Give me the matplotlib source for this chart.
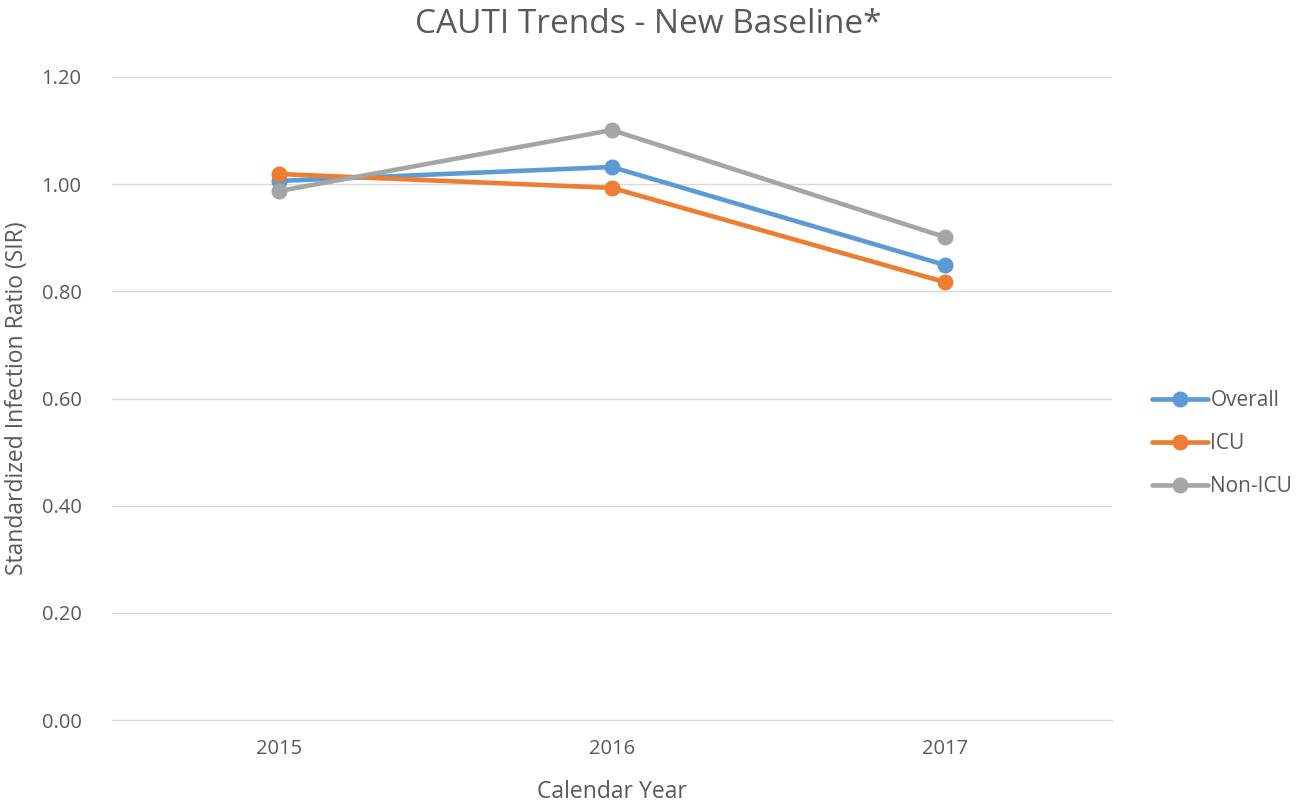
import matplotlib
matplotlib.use("Agg")
import matplotlib.pyplot as plt

years = ["2015", "2016", "2017"]
overall = [1.006, 1.032, 0.849]
icu = [1.019, 0.993, 0.817]
non_icu = [0.987, 1.101, 0.901]
series_names = ["Overall", "ICU", "Non-ICU"]
yticks = [0.0, 0.2, 0.4, 0.6, 0.8, 1.0, 1.2]

plt.rcParams['font.family'] = ['Open Sans', 'DejaVu Sans']
txt = '#595959'

fig = plt.figure(figsize=(12.96, 8.02), dpi=100)
ax = fig.add_axes([0.0864, 0.1022, 0.7716, 0.8018])

colors = ['#5B9BD5', '#ED7D31', '#A5A5A5']
x = list(range(len(years)))
for vals, name, c in zip([overall, icu, non_icu], series_names, colors):
    ax.plot(x, vals, color=c, lw=3.3, marker='o', ms=10.5, label=name,
            solid_capstyle='round', zorder=3)

ax.set_xlim(-0.5, 2.5)
ax.set_ylim(0, 1.2)
ax.set_yticks(yticks)
ax.set_yticklabels([f"{v:.2f}" for v in yticks])
ax.set_xticks(x)
ax.set_xticklabels(years)
ax.grid(axis='y', color='#D9D9D9', lw=1)
ax.set_axisbelow(True)
for s in ['top', 'right', 'left']:
    ax.spines[s].set_visible(False)
ax.spines['bottom'].set_color('#D9D9D9')
ax.tick_params(length=0, colors=txt, labelsize=14.5)
ax.tick_params(axis='y', pad=22)
ax.tick_params(axis='x', pad=14)

ax.set_xlabel("Calendar Year", fontsize=16.5, color=txt, labelpad=15)
ax.set_ylabel("Standardized Infection Ratio (SIR)", fontsize=16.5, color=txt, labelpad=9)
fig.suptitle("CAUTI Trends - New Baseline*", fontsize=24, color=txt, y=0.99)

leg = ax.legend(loc='center left', bbox_to_anchor=(1.04, 0.43), frameon=False,
                fontsize=15, handlelength=2.7, handletextpad=0.1, labelspacing=1.05,
                borderpad=0, borderaxespad=0, labelcolor=txt)

fig.savefig("out.png", dpi=100)
